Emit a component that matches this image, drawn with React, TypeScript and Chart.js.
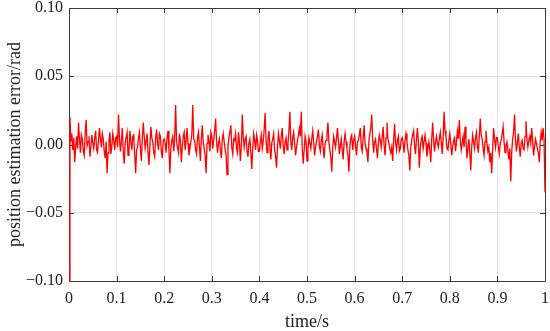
import { useEffect, useRef } from 'react';
import { Chart, registerables } from 'chart.js';

Chart.register(...registerables);

const sampleStep = 0.002;

const errorValues: number[] = [
  // 0.0 – 0.1 s
  -0.100, 0.020, 0.002, 0.008, -0.004, 0.005, -0.013, -0.002, 0.006, -0.003,
  0.016, 0.004, -0.006, 0.007, 0.004, -0.005, -0.008, 0.009, 0.018, -0.001,
  0.002, 0.006, -0.009, -0.002, 0.007, 0.001, -0.003, 0.005, 0.010, -0.004,
  -0.006, 0.003, 0.012, 0.004, -0.002, 0.008, 0.004, -0.005, -0.010, 0.002,
  -0.021, -0.006, 0.003, 0.009, -0.007, -0.001, 0.008, 0.003, -0.004, 0.005,
  // 0.1 – 0.2 s
  0.006, -0.002, 0.022, 0.004, -0.005, 0.003, 0.012, -0.006, -0.014, 0.001,
  0.005, 0.009, -0.008, -0.003, 0.010, 0.002, -0.004, 0.006, 0.007, -0.007,
  -0.021, -0.004, -0.002, 0.005, 0.009, -0.003, -0.012, 0.004, 0.016, 0.006,
  -0.003, 0.002, 0.008, -0.006, -0.015, -0.001, 0.013, 0.005, 0.002, -0.006,
  -0.009, 0.004, 0.011, 0.001, -0.004, 0.008, 0.006, -0.005, -0.010, 0.003,
  // 0.2 – 0.3 s
  0.004, 0.001, -0.006, 0.005, 0.010, -0.004, -0.021, -0.003, 0.003, 0.006,
  -0.005, 0.004, 0.029, 0.002, -0.002, -0.006, 0.008, 0.003, -0.013, -0.002,
  0.006, 0.009, -0.004, 0.003, 0.012, 0.001, -0.008, -0.003, 0.002, 0.007,
  0.029, 0.004, 0.003, -0.004, -0.007, 0.005, 0.009, -0.002, -0.012, 0.004,
  0.014, 0.002, -0.003, -0.008, -0.021, 0.001, 0.007, 0.002, -0.005, 0.009,
  // 0.3 – 0.4 s
  0.006, -0.003, 0.003, 0.010, 0.019, 0.002, -0.006, 0.001, 0.004, -0.004,
  -0.010, 0.003, 0.008, 0.002, -0.004, -0.008, -0.022, -0.001, 0.005, 0.009,
  0.014, -0.002, -0.007, 0.004, 0.003, 0.008, -0.003, -0.006, 0.009, 0.002,
  -0.012, -0.002, 0.022, 0.006, -0.002, 0.004, 0.006, -0.005, -0.009, 0.001,
  0.004, -0.006, -0.018, -0.003, 0.008, 0.003, -0.004, 0.007, 0.003, -0.005,
  // 0.4 – 0.5 s
  -0.005, 0.002, 0.007, -0.003, 0.002, 0.011, 0.023, 0.003, -0.006, 0.004,
  0.010, -0.002, -0.011, 0.001, 0.004, 0.008, -0.004, -0.009, -0.017, -0.002,
  0.008, 0.003, -0.003, 0.006, 0.012, -0.001, -0.007, 0.002, 0.005, -0.004,
  0.001, 0.010, 0.024, 0.002, -0.004, 0.005, 0.009, 0.001, -0.008, -0.002,
  0.003, 0.007, 0.012, 0.006, 0.024, -0.003, -0.014, -0.004, 0.006, 0.002,
  // 0.5 – 0.6 s
  -0.012, -0.003, 0.005, 0.001, -0.003, 0.004, 0.010, 0.002, -0.008, -0.002,
  0.002, 0.006, 0.011, -0.001, -0.005, 0.003, 0.007, -0.003, -0.010, 0.001,
  0.003, 0.008, 0.016, 0.002, -0.004, -0.009, -0.020, -0.003, 0.006, 0.002,
  -0.002, 0.005, 0.012, 0.003, -0.007, -0.001, 0.004, -0.004, -0.011, 0.002,
  0.008, 0.002, -0.003, -0.008, -0.020, -0.002, 0.005, 0.007, -0.004, 0.003,
  // 0.6 – 0.7 s
  0.006, -0.001, -0.008, 0.002, 0.003, 0.007, 0.012, -0.002, -0.005, 0.006,
  0.014, 0.001, -0.003, -0.006, -0.013, 0.002, 0.008, 0.012, 0.022, 0.003,
  -0.006, 0.002, 0.004, -0.003, -0.010, 0.001, 0.007, 0.003, -0.002, 0.006,
  0.013, -0.001, -0.008, 0.005, 0.016, 0.004, 0.001, -0.003, -0.006, -0.002,
  -0.012, 0.003, 0.015, 0.002, -0.004, 0.003, 0.006, -0.005, -0.003, 0.004,
  // 0.7 – 0.8 s
  0.005, 0.001, -0.006, 0.003, 0.008, 0.002, -0.004, -0.008, -0.019, -0.002,
  0.003, 0.007, 0.010, -0.001, -0.007, 0.004, 0.012, 0.002, -0.017, -0.003,
  0.004, 0.006, -0.003, 0.002, 0.007, 0.001, -0.009, -0.003, 0.002, -0.004,
  -0.013, 0.004, 0.016, 0.003, -0.005, 0.002, 0.006, 0.001, -0.002, 0.004,
  0.009, 0.002, -0.007, 0.005, 0.024, 0.010, 0.006, -0.003, -0.004, 0.003,
  // 0.8 – 0.9 s
  0.008, 0.001, -0.008, -0.002, 0.003, 0.005, -0.005, 0.002, 0.010, 0.004,
  0.018, 0.003, -0.004, 0.001, 0.006, -0.002, 0.013, 0.004, -0.010, -0.003,
  0.004, -0.006, -0.019, -0.002, 0.007, 0.002, -0.003, 0.005, 0.009, -0.001,
  -0.006, 0.006, 0.019, 0.007, 0.004, -0.003, -0.008, 0.002, 0.010, 0.001,
  -0.005, -0.002, -0.013, -0.006, -0.021, -0.004, 0.012, 0.004, -0.002, 0.005,
  // 0.9 – 1.0 s
  0.005, -0.002, -0.007, 0.001, 0.003, 0.008, 0.013, 0.002, -0.006, -0.001,
  0.002, -0.004, -0.011, -0.003, -0.027, -0.006, 0.004, 0.009, 0.022, 0.003,
  -0.005, 0.002, 0.008, -0.002, -0.009, 0.001, 0.003, -0.003, -0.004, 0.006,
  0.017, 0.004, -0.002, 0.003, 0.006, 0.001, 0.012, 0.003, -0.008, -0.002,
  0.004, 0.001, -0.003, -0.006, -0.013, 0.002, 0.009, 0.003, 0.012, 0.004,
  -0.035,
];

const sampleTimes: number[] = errorValues.map((_, i) => i * sampleStep);

const xTickValues = [0, 0.1, 0.2, 0.3, 0.4, 0.5, 0.6, 0.7, 0.8, 0.9, 1];
const yTickValues = [-0.1, -0.05, 0, 0.05, 0.1];

const xTitle = 'time/s';
const yTitle = 'position estimation error/rad';

const FONT = "'Liberation Serif', 'Times New Roman', serif";
const AXIS_COLOR = '#3a3a3a';

const boxPlugin = {
  id: 'boxAndTicks',
  beforeDatasetsDraw(chart: any) {
    const { ctx, chartArea } = chart;
    const { left, right, top, bottom } = chartArea;
    const xs = chart.scales.x;
    const ys = chart.scales.y;
    const len = 5;
    ctx.save();
    ctx.strokeStyle = AXIS_COLOR;
    ctx.lineWidth = 1;
    ctx.beginPath();
    ctx.rect(Math.round(left) + 0.5, Math.round(top) + 0.5, Math.round(right - left), Math.round(bottom - top));
    ctx.stroke();
    ctx.beginPath();
    for (const v of xTickValues) {
      const px = Math.round(xs.getPixelForValue(v)) + 0.5;
      ctx.moveTo(px, bottom);
      ctx.lineTo(px, bottom - len);
      ctx.moveTo(px, top);
      ctx.lineTo(px, top + len);
    }
    for (const v of yTickValues) {
      const py = Math.round(ys.getPixelForValue(v)) + 0.5;
      ctx.moveTo(left, py);
      ctx.lineTo(left + len, py);
      ctx.moveTo(right, py);
      ctx.lineTo(right - len, py);
    }
    ctx.stroke();
    ctx.restore();
  },
};

export default function App() {
  const canvasRef = useRef<HTMLCanvasElement | null>(null);

  useEffect(() => {
    document.body.style.margin = '0';
    const canvas = canvasRef.current;
    if (!canvas) return;
    const chart = new Chart(canvas, {
      type: 'line',
      data: {
        datasets: [
          {
            data: sampleTimes.map((t, i) => ({ x: t, y: errorValues[i] })),
            borderColor: '#ff0000',
            borderWidth: 1.3,
            pointRadius: 0,
            tension: 0,
            fill: false,
            clip: 3,
          },
        ],
      },
      options: {
        responsive: false,
        animation: false,
        events: [],
        layout: { padding: { left: 6, right: 5, top: 8, bottom: 0 } },
        plugins: {
          legend: { display: false },
          tooltip: { enabled: false },
          title: { display: false },
        },
        scales: {
          x: {
            type: 'linear',
            min: 0,
            max: 1,
            afterBuildTicks: (scale: any) => {
              scale.ticks = xTickValues.map((v) => ({ value: v }));
            },
            ticks: {
              autoSkip: false,
              maxRotation: 0,
              padding: 8,
              color: '#222',
              font: { family: FONT, size: 16 },
              callback: (v: any) => {
                const n = Math.round(Number(v) * 10) / 10;
                return n === 0 || n === 1 ? String(n) : n.toFixed(1);
              },
            },
            grid: { color: '#e4e4e4', lineWidth: 1, drawTicks: false },
            border: { display: false },
            title: {
              display: true,
              text: xTitle,
              color: '#222',
              font: { family: FONT, size: 18, lineHeight: 1 },
              padding: { top: 0, bottom: 0 },
            },
            afterFit: (scale: any) => {
              scale.height = 50;
              scale.paddingLeft = 0;
              scale.paddingRight = 0;
            },
          },
          y: {
            type: 'linear',
            min: -0.1,
            max: 0.1,
            afterBuildTicks: (scale: any) => {
              scale.ticks = yTickValues.map((v) => ({ value: v }));
            },
            ticks: {
              autoSkip: false,
              padding: 6,
              color: '#222',
              font: { family: FONT, size: 16 },
              callback: (v: any) => {
                const n = Math.round(Number(v) * 100) / 100;
                const s = Math.abs(n).toFixed(2);
                return n < 0 ? '\u2212' + s : s;
              },
            },
            grid: { color: '#e4e4e4', lineWidth: 1, drawTicks: false },
            border: { display: false },
            title: {
              display: true,
              text: yTitle,
              color: '#222',
              font: { family: FONT, size: 18, lineHeight: 1 },
              padding: { top: 0, bottom: 0 },
            },
            afterFit: (scale: any) => {
              scale.width = 63;
              scale.paddingTop = 0;
              scale.paddingBottom = 0;
            },
          },
        },
      },
      plugins: [boxPlugin],
    });
    return () => chart.destroy();
  }, []);

  return (
    <div style={{ position: 'absolute', left: 0, top: 0, width: 550, height: 331 }}>
      <canvas ref={canvasRef} width={550} height={331} style={{ display: 'block', width: 550, height: 331 }} />
    </div>
  );
}
